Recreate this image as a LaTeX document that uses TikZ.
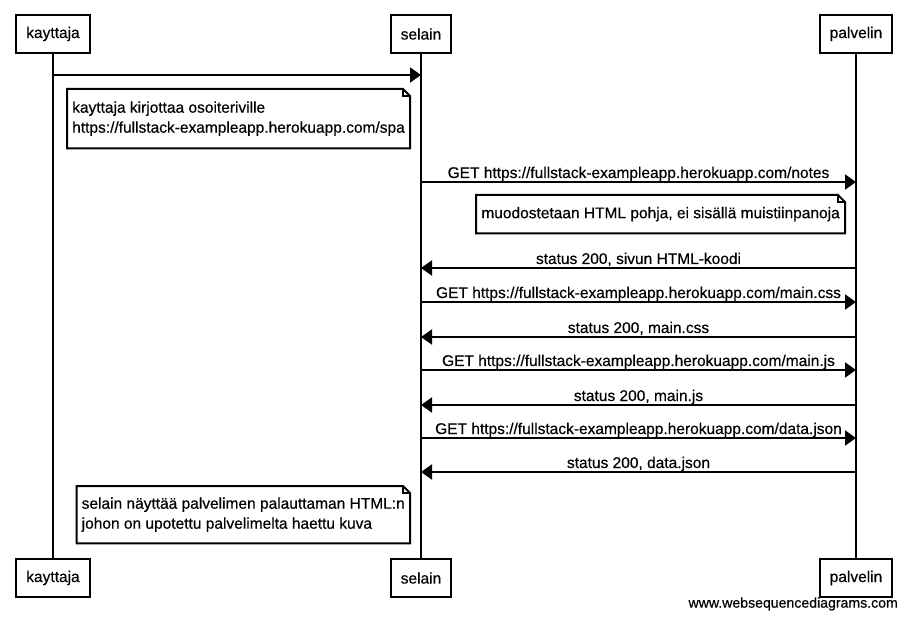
\documentclass[tikz,border=0pt]{standalone}
\usepackage{fontspec}
\setmainfont{Liberation Sans}[FakeBold=0.4]
\usetikzlibrary{arrows.meta}
\tikzset{
  every node/.style={font=\fontsize{15.5}{20}\selectfont},
  actor/.style={draw, line width=2pt, fill=white, minimum height=38pt, inner xsep=10pt, inner ysep=0pt},
  life/.style={line width=2pt},
  msg/.style={line width=2pt, -{Triangle[length=11pt,width=15pt]}},
  lbl/.style={anchor=base, yshift=4pt, inner sep=0pt},
  notebox/.style={align=left, inner xsep=5pt, inner ysep=0pt, anchor=north east},
  noteline/.style={line width=2pt, line join=miter},
  foldline/.style={line width=1.5pt},
}
\newcommand{\wsdnote}[1]{%
  \draw[noteline] (#1.north west) -- ([xshift=-7pt]#1.north east) -- ([yshift=-7pt]#1.north east) -- (#1.south east) -- (#1.south west) -- cycle;
  \draw[foldline] ([xshift=-7pt]#1.north east) -- ([xshift=-7pt,yshift=-7pt]#1.north east) -- ([yshift=-7pt]#1.north east);
}
\begin{document}
\begin{tikzpicture}[x=1pt, y=-1pt]
\useasboundingbox (0,0) rectangle (908,620);
% actors
\node[actor] (kt) at (53,34) {kayttaja};
\node[actor] (st) at (421,34) {selain};
\node[actor] (pt) at (856,34) {palvelin};
\node[actor] (kb) at (53,578) {kayttaja};
\node[actor] (sb) at (421,578) {selain};
\node[actor] (pb) at (856,578) {palvelin};
% lifelines
\draw[life] (kt.south) -- (kb.north);
\draw[life] (st.south) -- (sb.north);
\draw[life] (pt.south) -- (pb.north);
% message anchor points
\coordinate (k1) at (53,75);  \coordinate (s1) at (421,75);
\coordinate (s2) at (421,182); \coordinate (p2) at (856,182);
\coordinate (s3) at (421,268); \coordinate (p3) at (856,268);
\coordinate (s4) at (421,302); \coordinate (p4) at (856,302);
\coordinate (s5) at (421,337); \coordinate (p5) at (856,337);
\coordinate (s6) at (421,370); \coordinate (p6) at (856,370);
\coordinate (s7) at (421,405); \coordinate (p7) at (856,405);
\coordinate (s8) at (421,438); \coordinate (p8) at (856,438);
\coordinate (s9) at (421,472); \coordinate (p9) at (856,472);
% messages
\draw[msg] (k1) -- (s1);
\draw[msg] (s2) -- (p2) node[midway, lbl] {GET https://fullstack-exampleapp.herokuapp.com/notes};
\draw[msg] (p3) -- (s3) node[midway, lbl] {status 200, sivun HTML-koodi};
\draw[msg] (s4) -- (p4) node[midway, lbl] {GET https://fullstack-exampleapp.herokuapp.com/main.css};
\draw[msg] (p5) -- (s5) node[midway, lbl] {status 200, main.css};
\draw[msg] (s6) -- (p6) node[midway, lbl] {GET https://fullstack-exampleapp.herokuapp.com/main.js};
\draw[msg] (p7) -- (s7) node[midway, lbl] {status 200, main.js};
\draw[msg] (s8) -- (p8) node[midway, lbl] {GET https://fullstack-exampleapp.herokuapp.com/data.json};
\draw[msg] (p9) -- (s9) node[midway, lbl] {status 200, data.json};
% notes
\node[notebox, minimum height=59pt] (n1) at (410,89) {kayttaja kirjottaa osoiteriville\\https://fullstack-exampleapp.herokuapp.com/spa};
\wsdnote{n1}
\node[notebox, minimum height=38pt] (n2) at (845,195) {muodostetaan HTML pohja, ei sisällä muistiinpanoja};
\wsdnote{n2}
\node[notebox, minimum height=57pt] (n3) at (410,486) {selain näyttää palvelimen palauttaman HTML:n\\johon on upotettu palvelimelta haettu kuva};
\wsdnote{n3}
% watermark
\node[anchor=east, inner sep=0pt, font=\fontsize{14.1}{16}\selectfont] (wm) at (898,604) {www.websequencediagrams.com};
\end{tikzpicture}
\end{document}
